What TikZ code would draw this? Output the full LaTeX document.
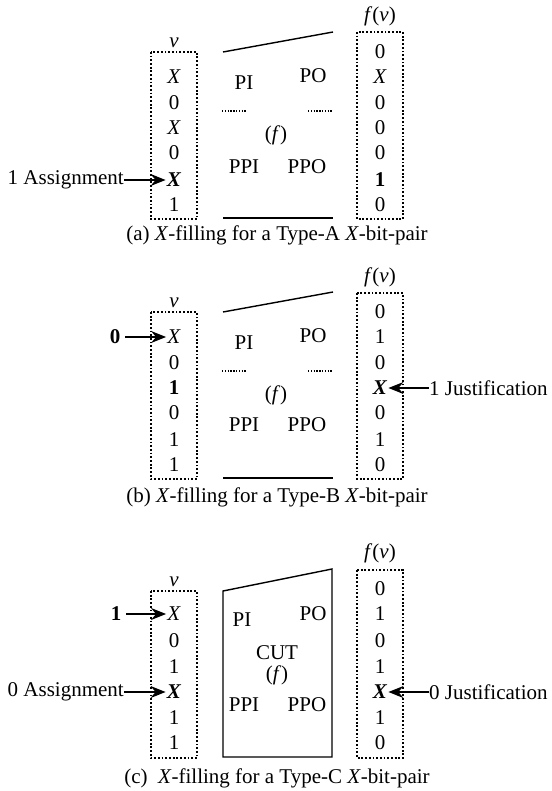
\documentclass[tikz,border=0pt]{standalone}
\usepackage{fontspec}
\setmainfont{Liberation Serif}
\usetikzlibrary{arrows.meta}
\begin{document}
\begin{tikzpicture}[x=1pt,y=-1pt,
  every node/.style={font=\fontsize{21}{25}\selectfont, inner sep=1pt},
  dbox/.style={line width=1.8pt, dash pattern=on 1.8pt off 1.9pt},
  sline/.style={line width=1.4pt},
  dline/.style={line width=1.5pt, dash pattern=on 1.4pt off 1.4pt},
  arr/.style={line width=1.3pt, -{Stealth[length=15pt,width=12pt,inset=5pt]}},
]
\useasboundingbox (0,0) rectangle (551,791);
% ---------------- panel (a)
\node (va) at (174,43) {\textit{v}};
\draw[dbox] (151,52) rectangle (197,219);
\foreach \t/\y/\n in {\textit{X}/77/1, 0/103/2, \textit{X}/128/3, 0/153/4, \textbf{\textit{X}}/180/5, 1/205/6}
  \node (la\n) at (174,\y) {\t};
\node (fva) at (380,16) {\textit{f}(\textit{v})};
\draw[dbox] (357,32) rectangle (403,219);
\foreach \t/\y/\n in {0/52/1, \textit{X}/77/2, 0/103/3, 0/128/4, 0/153/5, \textbf{1}/180/6, 0/205/7}
  \node (ra\n) at (380,\y) {\t};
\draw[sline] (223,52) -- (333,32);
\draw[sline] (223,218) -- (333,218);
\draw[dline] (222,111) -- (246,111);
\draw[dline] (308,111) -- (332,111);
\node (pia) at (244,83) {PI};
\node (poa) at (313,76) {PO};
\node (fa) at (276,135) {(\textit{f})};
\node (ppia) at (244,167) {PPI};
\node (ppoa) at (307,167) {PPO};
\node[anchor=east, inner sep=0pt] (asga) at (124,180) {1 Assignment};
\draw[arr] (asga.east) -- (la5.west);
\node (capa) at (277,235) {(a) \textit{X}-filling for a Type-A \textit{X}-bit-pair};
% ---------------- panel (b)
\node (vb) at (174,303) {\textit{v}};
\draw[dbox] (151,312) rectangle (197,479);
\foreach \t/\y/\n in {\textit{X}/337/1, 0/363/2, \textbf{1}/388/3, 0/413/4, 1/440/5, 1/465/6}
  \node (lb\n) at (174,\y) {\t};
\node (fvb) at (380,277) {\textit{f}(\textit{v})};
\draw[dbox] (357,293) rectangle (403,479);
\foreach \t/\y/\n in {0/312/1, 1/337/2, 0/363/3, \textbf{\textit{X}}/388/4, 0/413/5, 1/440/6, 0/465/7}
  \node (rb\n) at (380,\y) {\t};
\draw[sline] (223,312) -- (333,292);
\draw[sline] (223,478) -- (333,478);
\draw[dline] (222,371) -- (246,371);
\draw[dline] (308,371) -- (332,371);
\node (pib) at (244,343) {PI};
\node (pob) at (313,336) {PO};
\node (fb) at (276,395) {(\textit{f})};
\node (ppib) at (244,425) {PPI};
\node (ppob) at (307,425) {PPO};
\node (zb) at (115,337) {\textbf{0}};
\draw[arr, shorten <=4pt] (zb.east) -- (lb1.west);
\node[anchor=west, inner sep=0pt] (jb) at (429,388) {1 Justification};
\draw[arr] (jb.west) -- (rb4.east);
\node (capb) at (277,497) {(b) \textit{X}-filling for a Type-B \textit{X}-bit-pair};
% ---------------- panel (c)
\node (vc) at (174,582) {\textit{v}};
\draw[dbox] (151,591) rectangle (197,758);
\foreach \t/\y/\n in {\textit{X}/614/1, 0/641/2, 1/667/3, \textbf{\textit{X}}/692/4, 1/718/5, 1/743/6}
  \node (lc\n) at (174,\y) {\t};
\node (fvc) at (380,553) {\textit{f}(\textit{v})};
\draw[dbox] (357,570) rectangle (403,758);
\foreach \t/\y/\n in {0/589/1, 1/614/2, 0/641/3, 1/667/4, \textbf{\textit{X}}/692/5, 1/718/6, 0/743/7}
  \node (rc\n) at (380,\y) {\t};
\draw[sline] (223,591) -- (332,569) -- (332,757) -- (223,757) -- cycle;
\node (pic) at (242,620) {PI};
\node (poc) at (313,614) {PO};
\node (cutc) at (277,653) {CUT};
\node (fc) at (277,675) {(\textit{f})};
\node (ppic) at (244,705) {PPI};
\node (ppoc) at (307,705) {PPO};
\node (oc) at (116,614) {\textbf{1}};
\draw[arr, shorten <=4pt] (oc.east) -- (lc1.west);
\node[anchor=east, inner sep=0pt] (asgc) at (124,692) {0 Assignment};
\draw[arr] (asgc.east) -- (lc4.west);
\node[anchor=west, inner sep=0pt] (jc) at (429,692) {0 Justification};
\draw[arr] (jc.west) -- (rc5.east);
\node (capc) at (277,778) {(c)\enspace\textit{X}-filling for a Type-C \textit{X}-bit-pair};
\end{tikzpicture}
\end{document}
